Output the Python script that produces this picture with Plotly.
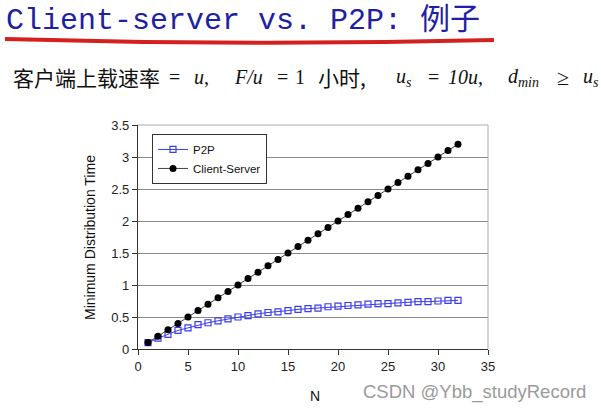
import plotly.graph_objects as go

N = list(range(1, 33))
client_server = [0.1, 0.2, 0.3, 0.4, 0.5, 0.6, 0.7, 0.8, 0.9, 1.0, 1.1, 1.2, 1.3, 1.4, 1.5, 1.6,
                 1.7, 1.8, 1.9, 2.0, 2.1, 2.2, 2.3, 2.4, 2.5, 2.6, 2.7, 2.8, 2.9, 3.0, 3.1, 3.2]
p2p = [0.10, 0.17, 0.23, 0.29, 0.33, 0.38, 0.41, 0.44, 0.47, 0.50, 0.52, 0.55, 0.57, 0.58, 0.60, 0.62,
       0.63, 0.64, 0.66, 0.67, 0.68, 0.69, 0.70, 0.71, 0.71, 0.72, 0.73, 0.74, 0.74, 0.75, 0.76, 0.76]
x_ticks = [0, 5, 10, 15, 20, 25, 30, 35]
y_ticks = [0, 0.5, 1, 1.5, 2, 2.5, 3, 3.5]

W, H = 601, 411
L, R, T, B = 138, 113, 125, 62

fig = go.Figure()
fig.add_trace(go.Scatter(
    x=N, y=p2p, name="P2P", mode="lines+markers",
    line=dict(color="#3c3cf0", width=1),
    marker=dict(symbol="square-open", size=6, color="#3c3cf0", line=dict(width=1.2)),
))
fig.add_trace(go.Scatter(
    x=N, y=client_server, name="Client-Server", mode="lines+markers",
    line=dict(color="#444444", width=1),
    marker=dict(symbol="circle", size=7, color="black"),
))

SANS = "Liberation Sans, Arial, sans-serif"
axis_font = dict(family=SANS, size=13, color="#222222")

fig.update_layout(
    width=W, height=H,
    margin=dict(l=L, r=R, t=T, b=B, autoexpand=False),
    paper_bgcolor="white", plot_bgcolor="white",
    showlegend=True,
    legend=dict(x=0.04, y=0.96, xanchor="left", yanchor="top",
                bgcolor="white", bordercolor="#333333", borderwidth=1,
                font=dict(family=SANS, size=11.5, color="#111111"),
                itemwidth=30, tracegroupgap=0),
    xaxis=dict(range=[0, 35], tickvals=x_ticks, ticks="outside", ticklen=5, tickcolor="#333333",
               showline=True, linecolor="#333333", linewidth=1.2, showgrid=False, zeroline=False,
               tickfont=axis_font, automargin=False),
    yaxis=dict(range=[0, 3.5], tickvals=y_ticks, ticks="outside", ticklen=5, tickcolor="#333333",
               showline=True, linecolor="#333333", linewidth=1.2, showgrid=True, gridcolor="#8a8a8a",
               gridwidth=1, zeroline=False, tickfont=axis_font, automargin=False),
)

# light gray plot frame on top and right
fig.add_shape(type="line", xref="paper", yref="paper", x0=0, x1=1, y0=1, y1=1,
              line=dict(color="#aaaaaa", width=1))
fig.add_shape(type="line", xref="paper", yref="paper", x0=1, x1=1, y0=0, y1=1,
              line=dict(color="#aaaaaa", width=1))

def px(x):
    return (x - L) / (W - L - R)

def py(y):
    return (H - B - y) / (H - T - B)

def text(x, y, s, font, xanchor="left", textangle=0):
    fig.add_annotation(xref="paper", yref="paper", x=px(x), y=py(y), xanchor=xanchor, yanchor="middle",
                       text=s, showarrow=False, font=font, textangle=textangle)

# axis titles
text(90, 238, "Minimum Distribution Time", dict(family=SANS, size=14, color="#111111"),
     xanchor="center", textangle=-90)
text(315, 396, "N", dict(family=SANS, size=14, color="#111111"), xanchor="center")

# slide title
text(4, 20, "Client-server vs. P2P: 例子",
     dict(family="Liberation Mono, Noto Sans CJK SC, monospace", size=30, color="#2020a4"))

# red underline stroke
fig.add_shape(type="path", xref="paper", yref="paper",
              path=f"M {px(5)},{py(39)} Q {px(250)},{py(46)} {px(494)},{py(40)}",
              line=dict(color="#d42020", width=4))

# subtitle, placed piece by piece
CJK = dict(family="Noto Sans CJK SC, sans-serif", size=21, color="#111111")
SER = dict(family="Liberation Serif, serif", size=20, color="#111111")
ty = 77
text(11, ty, "客户端上载速率", CJK)
text(167, ty, "=", SER)
text(192, ty, "<i>u</i>,", SER)
text(232, ty, "<i>F/u</i>", SER)
text(275, ty, "=", SER)
text(293, ty, "1", SER)
text(316, ty, "小时,", CJK)
text(394, ty, "<i>u<sub>s</sub></i>", SER)
text(426, ty, "=", SER)
text(446, ty, "<i>10u</i>,", SER)
text(506, ty, "<i>d<sub>min</sub></i>", SER)
text(555, ty, "≥", dict(family="Liberation Serif, serif", size=22, color="#111111"))
text(581, ty, "<i>u<sub>s</sub></i>", SER)

# watermark
text(588, 392, "CSDN @Ybb_studyRecord", dict(family=SANS, size=18.5, color="#9a9a9a"), xanchor="right")

# remove the browser's default 8px body margin so the figure sits at the page corner
fig.write_html("out.html", config={"displayModeBar": False},
               post_script="document.body.style.margin='0';")
